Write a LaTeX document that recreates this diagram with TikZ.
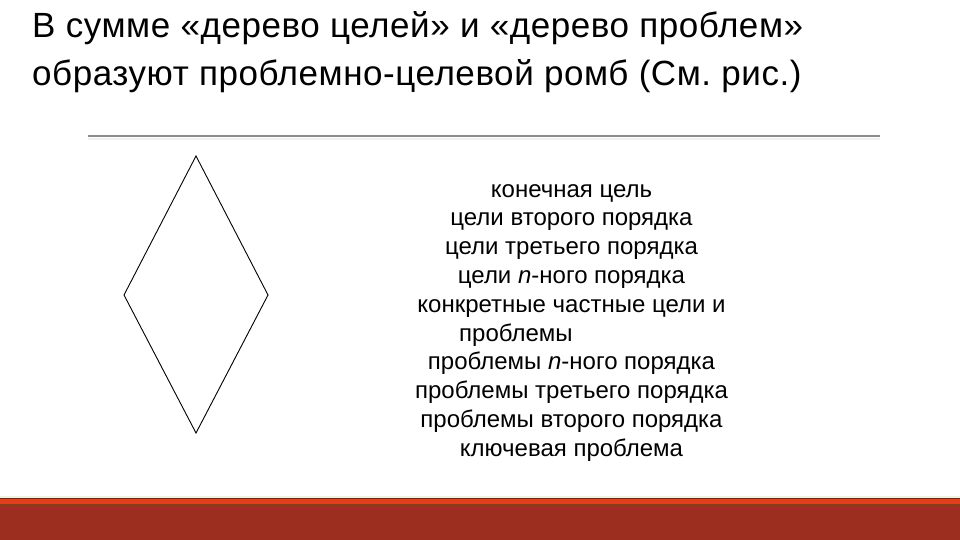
\documentclass[tikz,border=0pt]{standalone}
\usepackage{fontspec}
\setmainfont{Liberation Sans}
\frenchspacing
\newfontfamily\titlefont[LetterSpace=1.6]{Liberation Sans}
\definecolor{barmain}{HTML}{9C2E1F}
\definecolor{barorange}{HTML}{E0401E}
\definecolor{barbrown}{HTML}{8E3A18}
\definecolor{barred}{HTML}{A62A2A}
\definecolor{bardark}{HTML}{6B2A1A}
\definecolor{barpale}{HTML}{EEF3E2}
\tikzset{
  titletext/.style={anchor=base west, inner sep=0pt, font=\titlefont\fontsize{35}{40}\selectfont},
  bodytext/.style={anchor=base, inner sep=0pt, font=\fontsize{24}{29}\selectfont},
  rombline/.style={draw=black, line width=0.9pt, line join=miter},
}
\begin{document}
\begin{tikzpicture}[x=1pt,y=-1pt]
\useasboundingbox (0,0) rectangle (960,540);
\fill[white] (0,0) rectangle (960,540);
% title
\node[titletext] (t1) at (32,38) {В сумме «дерево целей» и «дерево проблем»};
\node[titletext] (t2) at (32,86) {образуют проблемно-целевой ромб (См. рис.)};
% separator
\draw[draw=gray!90, line width=1.2pt] (88,136) -- (880,136);
\draw[draw=gray!12, line width=2pt] (88,139.5) -- (880,139.5);
% rhombus
\coordinate (rt) at (196,156);
\coordinate (rr) at (268,295);
\coordinate (rb) at (196,433);
\coordinate (rl) at (124,295);
\draw[rombline] (rt) -- (rr) -- (rb) -- (rl) -- cycle;
% list
\node[bodytext] (l1) at (571.5,197) {конечная цель};
\node[bodytext] (l2) at (571.5,225.8) {цели второго порядка};
\node[bodytext] (l3) at (571.5,254.6) {цели третьего порядка};
\node[bodytext] (l4) at (571.5,283.4) {цели \textit{n}-ного порядка};
\node[bodytext] (l5) at (571.5,312.2) {конкретные частные цели и};
\node[bodytext, anchor=base west] (l6) at (459,341) {проблемы};
\node[bodytext] (l7) at (571.5,369.8) {проблемы \textit{n}-ного порядка};
\node[bodytext] (l8) at (571.5,398.6) {проблемы третьего порядка};
\node[bodytext] (l9) at (571.5,427.4) {проблемы второго порядка};
\node[bodytext] (l10) at (571.5,456.2) {ключевая проблема};
% bottom bar
\fill[barpale] (0,496) rectangle (960,497.5);
\fill[bardark] (0,497.5) rectangle (960,498.7);
\fill[barorange] (0,498.7) rectangle (960,504);
\fill[barbrown] (0,504) rectangle (960,506.7);
\fill[barred] (0,506.7) rectangle (960,510);
\fill[barmain] (0,510) rectangle (960,540);
\end{tikzpicture}
\end{document}
